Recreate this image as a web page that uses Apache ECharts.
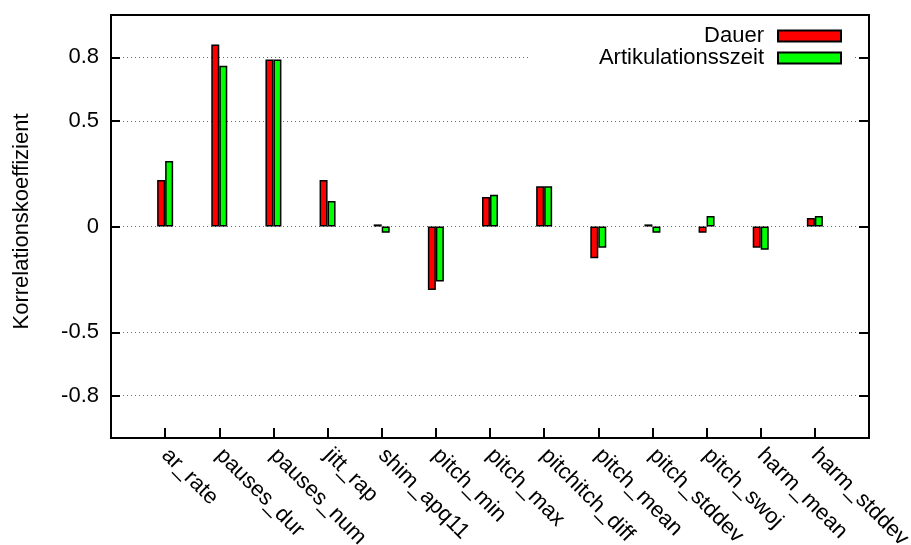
<!DOCTYPE html>
<html>
<head>
<meta charset="utf-8">
<script src="https://cdn.jsdelivr.net/npm/echarts@6/dist/echarts.min.js"></script>
<style>
  html, body { margin: 0; padding: 0; background: #fff; }
  #chart { width: 911px; height: 545px; }
</style>
</head>
<body>
<div id="chart"></div>
<script>
// Feature names along the x axis
const features = ['ar_rate', 'pauses_dur', 'pauses_num', 'jitt_rap', 'shim_apq11',
  'pitch_min', 'pitch_max', 'pitchitch_diff', 'pitch_mean', 'pitch_stddev',
  'pitch_swoj', 'harm_mean', 'harm_stddev'];

// Correlation coefficients per feature
const dauer = [0.22, 0.86, 0.79, 0.22, 0.01, -0.30, 0.14, 0.19, -0.15, 0.01, -0.03, -0.10, 0.04];
const artikulationsszeit = [0.31, 0.76, 0.79, 0.12, -0.03, -0.26, 0.15, 0.19, -0.10, -0.03, 0.05, -0.11, 0.05];

// Labelled ticks on the value axis
const yTicks = [-0.8, -0.5, 0, 0.5, 0.8];

// One empty slot at each end keeps the first and last bars away from the frame
const xSlots = [''].concat(features, ['']);
const pad = arr => ['-'].concat(arr, ['-']);

const FONT = "'Liberation Sans', Arial, Helvetica, sans-serif";
const FS = 22;
const chart = echarts.init(document.getElementById('chart'), null, { renderer: 'canvas' });

const barStyle = color => ({ color: color, borderColor: '#000', borderWidth: 1.5 });

chart.setOption({
  animation: false,
  backgroundColor: '#fff',
  textStyle: { fontFamily: FONT },
  grid: {
    left: 111, right: 42, top: 15, bottom: 107,
    containLabel: false,
    outerBoundsMode: 'none',
    show: true, borderColor: '#000', borderWidth: 2, backgroundColor: 'transparent'
  },
  legend: {
    orient: 'vertical',
    align: 'right',
    right: 56,
    top: 21,
    padding: [4, 13, 4, 70],
    backgroundColor: '#fff',
    icon: 'rect',
    itemWidth: 63,
    itemHeight: 11,
    itemGap: 0,
    textStyle: { fontSize: FS, color: '#000', lineHeight: 22, padding: [0, 9, 0, 0], fontFamily: FONT },
    data: ['Dauer', 'Artikulationsszeit']
  },
  xAxis: {
    type: 'category',
    data: xSlots,
    boundaryGap: false,
    axisLine: { show: true, onZero: false, lineStyle: { color: '#000', width: 2 } },
    axisTick: { show: true, inside: true, length: 10, lineStyle: { color: '#000', width: 2 } },
    axisLabel: { rotate: -45, fontSize: FS, color: '#000', margin: 14, interval: 0, fontFamily: FONT },
    splitLine: { show: false }
  },
  yAxis: [
    {
      type: 'value',
      min: -1, max: 1,
      name: 'Korrelationskoeffizient',
      nameLocation: 'middle',
      nameRotate: 90,
      nameGap: 78,
      nameTextStyle: { fontSize: FS, color: '#000', fontFamily: FONT, padding: [0, 0, 0, 10] },
      axisLine: { show: true, lineStyle: { color: '#000', width: 2 } },
      axisTick: { show: true, inside: true, length: 9, customValues: yTicks, lineStyle: { color: '#000', width: 2 } },
      axisLabel: { fontSize: FS, color: '#000', margin: 12, customValues: yTicks, formatter: v => String(v), fontFamily: FONT },
      splitLine: { show: true, lineStyle: { color: '#666', width: 1, type: [1, 3] } }
    },
    {
      type: 'value',
      min: -1, max: 1,
      position: 'right',
      axisLine: { show: true, lineStyle: { color: '#000', width: 2 } },
      axisTick: { show: true, inside: true, length: 10, customValues: yTicks, lineStyle: { color: '#000', width: 2 } },
      axisLabel: { show: false },
      splitLine: { show: false }
    }
  ],
  series: [
    {
      name: 'Dauer',
      type: 'bar',
      data: pad(dauer),
      barWidth: 8,
      barGap: '0%',
      itemStyle: barStyle('#ff0000')
    },
    {
      name: 'Artikulationsszeit',
      type: 'bar',
      data: pad(artikulationsszeit),
      barWidth: 8,
      barGap: '0%',
      itemStyle: barStyle('#00ff00')
    }
  ]
});
</script>
</body>
</html>
